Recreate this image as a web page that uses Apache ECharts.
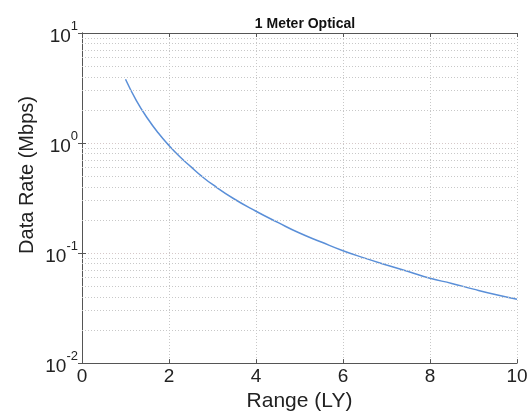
<!DOCTYPE html>
<html><head><meta charset="utf-8">
<script src="https://cdn.jsdelivr.net/npm/echarts@6/dist/echarts.min.js"></script>
<style>html,body{margin:0;padding:0;background:#fff}#c{width:532px;height:417px}</style>
</head><body><div id="c"></div>
<script>
const rangeLY = [1, 1.25, 1.5, 1.75, 2, 2.25, 2.5, 2.75, 3, 3.5, 4, 4.5, 5, 5.5, 6, 6.5, 7, 7.5, 8, 8.5, 9, 9.5, 10];
const dataRate = [3.8, 2.43, 1.69, 1.24, 0.95, 0.75, 0.61, 0.50, 0.42, 0.31, 0.24, 0.19, 0.152, 0.126, 0.105, 0.09, 0.078, 0.068, 0.059, 0.053, 0.047, 0.042, 0.038];
const xTicks = [0, 2, 4, 6, 8, 10];
const yExponents = [-2, -1, 0, 1];
const minorGrid = [];
for (let e = -2; e < 1; e++) for (let m = 2; m <= 9; m++) minorGrid.push(+(m * Math.pow(10, e)).toPrecision(3));

const chart = echarts.init(document.getElementById('c'), null, {renderer: 'canvas'});
const font = 'Liberation Sans, Arial, Helvetica, sans-serif';
const gridDot = {color: '#c8c8c8', type: [1, 2], width: 1};
chart.setOption({
  animation: false,
  title: {text: '1 Meter Optical', left: 300, top: 12, textAlign: 'center',
    textStyle: {fontFamily: font, fontWeight: 'bold', fontSize: 14, color: '#111'}},
  grid: {left: 82, right: 15, top: 33, bottom: 44},
  graphic: [{
    type: 'text', x: 27, y: 175, rotation: Math.PI / 2,
    style: {text: 'Data Rate (Mbps)', fontFamily: font, fontSize: 20, fill: '#222',
      textAlign: 'center', textVerticalAlign: 'middle'}
  }],
  xAxis: [{
    type: 'value', min: 0, max: 10, interval: 2,
    name: 'Range (LY)', nameLocation: 'middle', nameGap: 26,
    nameTextStyle: {fontFamily: font, fontSize: 21, color: '#222'},
    axisLine: {show: true, lineStyle: {color: '#555', width: 1}},
    axisTick: {inside: true, length: 4, lineStyle: {color: '#555'}},
    axisLabel: {fontFamily: font, fontSize: 19, color: '#222', margin: 4},
    splitLine: {show: true, lineStyle: gridDot}
  }, {
    type: 'value', min: 0, max: 10, interval: 2, position: 'top',
    axisLine: {show: true, lineStyle: {color: '#555', width: 1}},
    axisTick: {inside: true, length: 4, lineStyle: {color: '#555'}},
    axisLabel: {show: false}, splitLine: {show: false}
  }],
  yAxis: [{
    type: 'log', logBase: 10, min: 0.01, max: 10,
    axisLine: {show: true, lineStyle: {color: '#555', width: 1}},
    axisTick: {inside: true, length: 4, lineStyle: {color: '#555'}},
    axisLabel: {
      margin: 4,
      formatter: function (v) {
        const e = Math.round(Math.log10(v));
        return '{b|10}{s|' + e + '}';
      },
      rich: {
        b: {fontFamily: font, fontSize: 19, color: '#222', padding: [8, 0, 0, 0]},
        s: {fontFamily: font, fontSize: 13, color: '#222', padding: [0, 0, 14, 0]}
      }
    },
    splitLine: {show: true, lineStyle: {color: '#d6c8c8', type: [1, 2], width: 1}}
  }, {
    type: 'log', logBase: 10, min: 0.01, max: 10, position: 'right',
    axisLine: {show: true, lineStyle: {color: '#555', width: 1}},
    axisTick: {inside: true, length: 4, lineStyle: {color: '#555'}},
    axisLabel: {show: false}, splitLine: {show: false}
  }],
  series: [{
    type: 'line', xAxisIndex: 0, yAxisIndex: 0,
    data: rangeLY.map((x, i) => [x, dataRate[i]]),
    smooth: 0.5, showSymbol: false,
    lineStyle: {color: '#5a8fd8', width: 1.5},
    markLine: {
      silent: true, symbol: 'none', label: {show: false},
      lineStyle: {color: '#c8c8c8', type: [1, 2], width: 1},
      data: minorGrid.map(v => ({yAxis: v}))
    }
  }]
});
</script></body></html>
